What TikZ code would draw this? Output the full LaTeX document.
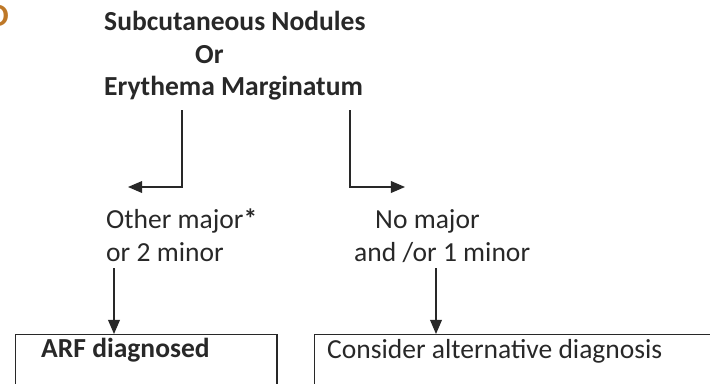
\documentclass[tikz,border=0pt]{standalone}
\usepackage{fontspec}
\setmainfont{Carlito}
\usetikzlibrary{arrows.meta}
\begin{document}
\begin{tikzpicture}[x=0.03cm, y=-0.03cm,
    txt/.style={anchor=base west, inner sep=0pt, text=textColor, font=\fontsize{23.5}{28}\selectfont},
    boldtxt/.style={txt, font=\bfseries\fontsize{23.5}{28}\selectfont},
    boxline/.style={draw=lineColor, line width=1.1pt, anchor=north west, inner sep=0pt},
    link/.style={draw=lineColor, line width=1.1pt, -{Triangle[length=12pt, width=10pt]}}]
    % Define colors
    \definecolor{textColor}{RGB}{40,40,40}
    \definecolor{lineColor}{RGB}{40,40,40}
    \definecolor{labelColor}{RGB}{190,120,40}
    % Page frame
    \useasboundingbox (0,0) rectangle (710,383);
    % Panel letter (cut off at the edge)
    \node[anchor=base east, inner sep=0pt, text=labelColor, font=\bfseries\fontsize{28}{30}\selectfont] (panel) at (9,26) {D};
    % Criterion at the top
    \node[boldtxt] (subc) at (104,30) {Subcutaneous Nodules};
    \node[boldtxt] (or) at (195,63) {Or};
    \node[boldtxt] (eryth) at (104,95) {Erythema Marginatum};
    % Branch labels
    \node[txt] (other) at (106,228) {Other major\textbf{*}};
    \node[txt] (twominor) at (106,261) {or 2 minor};
    \node[txt] (nomajor) at (375,228) {No major};
    \node[txt] (oneminor) at (354,261) {and /or 1 minor};
    % Outcome boxes (cut off at the bottom)
    \node[boxline, minimum width=223, minimum height=80] (arf) at (15,334) {};
    \node[boxline, minimum width=420, minimum height=80] (alt) at (314,334) {};
    \node[boldtxt] (arftxt) at (41,357) {ARF diagnosed};
    \node[txt] (alttxt) at (327,358) {Consider alternative diagnosis};
    % Elbow arrows from the criterion
    \coordinate (lstart) at (182,110);
    \coordinate (rstart) at (350,110);
    \coordinate (lefttip) at (128,187);
    \coordinate (righttip) at (405,187);
    \draw[link] (lstart) |- (lefttip);
    \draw[link] (rstart) |- (righttip);
    % Down arrows to the outcomes
    \coordinate (ldown) at (114,268);
    \coordinate (rdown) at (436,268);
    \draw[link] (ldown) -- (ldown |- arf.north);
    \draw[link] (rdown) -- (rdown |- alt.north);
\end{tikzpicture}
\end{document}
